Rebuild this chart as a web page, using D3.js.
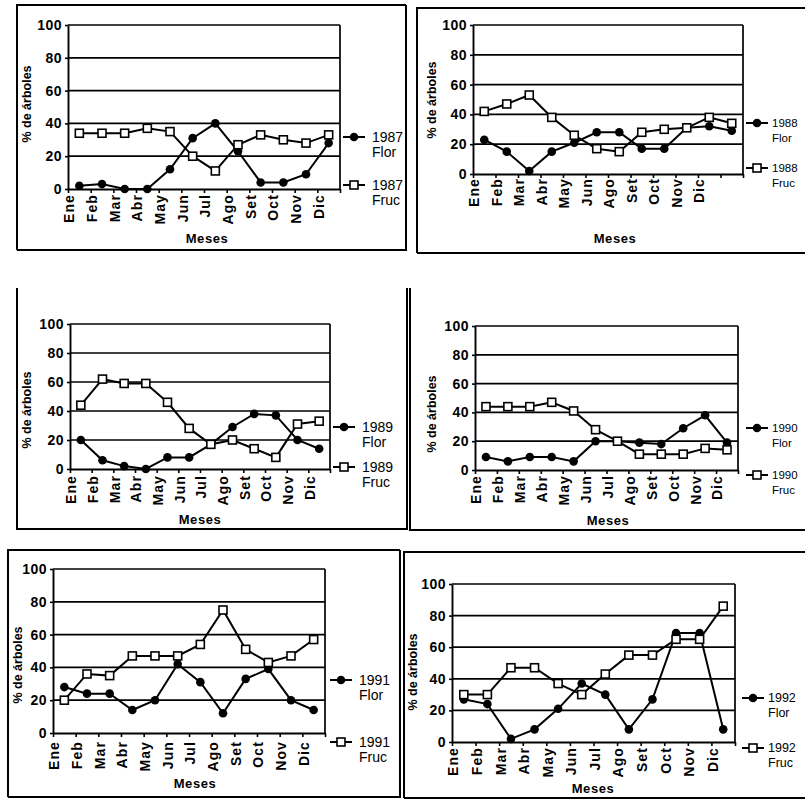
<!DOCTYPE html>
<html>
<head>
<meta charset="utf-8">
<script src="https://cdn.jsdelivr.net/npm/d3@7"></script>
<style>
  html, body { margin: 0; padding: 0; background: #fff; }
  svg { display: block; font-family: "Liberation Sans", Arial, sans-serif; }
</style>
</head>
<body>
<svg id="chart" width="805" height="801"></svg>
<script>
// Meses del año y etiquetas del eje
const months = ["Ene", "Feb", "Mar", "Abr", "May", "Jun", "Jul", "Ago", "Set", "Oct", "Nov", "Dic"];
const monthLabels1988 = ["Ene", "Feb", "Mar", "Abr", "May", "Jun", "Ago", "Set", "Oct", "Nov", "Dic"];
const yTicks = [0, 20, 40, 60, 80, 100];

// % de árboles en floración (Flor) y fructificación (Fruc) por año
const flor1987 = [2, 3, 0, 0, 12, 31, 40, 23, 4, 4, 9, 28];
const fruc1987 = [34, 34, 34, 37, 35, 20, 11, 27, 33, 30, 28, 33];
const flor1988 = [23, 15, 2, 15, 21, 28, 28, 17, 17, 31, 32, 29];
const fruc1988 = [42, 47, 53, 38, 26, 17, 15, 28, 30, 31, 38, 34];
const flor1989 = [20, 6, 2, 0, 8, 8, 17, 29, 38, 37, 20, 14];
const fruc1989 = [44, 62, 59, 59, 46, 28, 17, 20, 14, 8, 31, 33];
const flor1990 = [9, 6, 9, 9, 6, 20, 20, 19, 18, 29, 38, 19];
const fruc1990 = [44, 44, 44, 47, 41, 28, 20, 11, 11, 11, 15, 14];
const flor1991 = [28, 24, 24, 14, 20, 42, 31, 12, 33, 39, 20, 14];
const fruc1991 = [20, 36, 35, 47, 47, 47, 54, 75, 51, 43, 47, 57];
const flor1992 = [27, 24, 2, 8, 21, 37, 30, 8, 27, 69, 69, 8];
const fruc1992 = [30, 30, 47, 47, 37, 30, 43, 55, 55, 65, 65, 86];

const svg = d3.select("#chart");

// Placement of each small panel on the page
const panels = [
  { year: "1987", flor: flor1987, fruc: fruc1987, labels: months,
    frame: [17, 5, 406, 250], top: true,
    l: 68, r: 340, t: 25, b: 189, pad: 5,
    yTitle: [27, 104], meses: [207, 238], legend: [343, 137, 185], legendSize: 14 },
  { year: "1988", flor: flor1988, fruc: fruc1988, labels: monthLabels1988,
    frame: [417, 8, 812, 253], top: true,
    l: 473, r: 743, t: 25, b: 174, pad: 4,
    yTitle: [432, 100], meses: [615, 238], legend: [746, 123, 168], legendSize: 11.5 },
  { year: "1989", flor: flor1989, fruc: fruc1989, labels: months,
    frame: [17, 288, 407, 529], top: false,
    l: 70, r: 330, t: 324, b: 469, pad: 6,
    yTitle: [27, 410], meses: [200, 519], legend: [333, 427, 467], legendSize: 14 },
  { year: "1990", flor: flor1990, fruc: fruc1990, labels: months,
    frame: [410, 288, 812, 530], top: false,
    l: 475, r: 738, t: 326, b: 470, pad: 5,
    yTitle: [432, 414], meses: [608, 520], legend: [746, 428, 475], legendSize: 11.5 },
  { year: "1991", flor: flor1991, fruc: fruc1991, labels: months,
    frame: [8, 550, 400, 797], top: true,
    l: 53, r: 325, t: 569, b: 733, pad: 8,
    yTitle: [18, 665], meses: [195, 783], legend: [330, 680, 742], legendSize: 14 },
  { year: "1992", flor: flor1992, fruc: fruc1992, labels: months,
    frame: [404, 552, 812, 798], top: true,
    l: 452, r: 735, t: 584, b: 742, pad: 5,
    yTitle: [413, 672], meses: [593, 788], legend: [742, 698, 748], legendSize: 12.5 }
];

function drawSquare(sel, cx, cy) {
  sel.append("rect")
    .attr("x", cx - 4).attr("y", cy - 4)
    .attr("width", 8).attr("height", 8)
    .attr("fill", "#fff").attr("stroke", "#000").attr("stroke-width", 1.6);
}

function drawPanel(p) {
  const g = svg.append("g");
  const [fx0, fy0, fx1, fy1] = p.frame;

  // Outer frame
  const framePath = p.top
    ? `M${fx0},${fy1}V${fy0}H${fx1}M${fx0},${fy1}H${fx1}V${fy0}`
    : `M${fx0},${fy0}V${fy1}H${fx1}V${fy0}`;
  g.append("path").attr("d", framePath)
    .attr("fill", "none").attr("stroke", "#000").attr("stroke-width", 2);

  const x = d3.scaleLinear().domain([0, 12]).range([p.l, p.r]);
  const y = d3.scaleLinear().domain([0, 100]).range([p.b, p.t]);

  // Horizontal gridlines and right border of the plot area
  g.selectAll("line.grid").data(yTicks.filter(v => v > 0)).join("line")
    .attr("class", "grid")
    .attr("x1", p.l).attr("x2", p.r)
    .attr("y1", d => y(d)).attr("y2", d => y(d))
    .attr("stroke", "#000").attr("stroke-width", 1.7);
  g.append("line")
    .attr("x1", p.r).attr("x2", p.r).attr("y1", y(0)).attr("y2", y(100))
    .attr("stroke", "#000").attr("stroke-width", 1.7);

  // Y axis
  const ya = g.append("g").attr("transform", `translate(${p.l},0)`)
    .call(d3.axisLeft(y).tickValues(yTicks).tickSize(3).tickSizeOuter(0).tickPadding(3));
  ya.select(".domain").attr("stroke-width", 1.9);
  ya.selectAll(".tick line").attr("stroke-width", 1.6);
  ya.selectAll(".tick text")
    .attr("font-size", 14).attr("font-weight", "bold").attr("fill", "#000")
    .attr("letter-spacing", 0.5);

  // X axis with rotated month names at the tick marks
  const xa = g.append("g").attr("transform", `translate(0,${p.b})`)
    .call(d3.axisBottom(x).tickValues(d3.range(13)).tickSize(4).tickSizeOuter(0)
      .tickFormat(i => p.labels[i] || ""));
  xa.select(".domain").attr("stroke-width", 1.9);
  xa.selectAll(".tick line").attr("stroke-width", 1.6);
  xa.selectAll(".tick text")
    .attr("transform", "rotate(-90)")
    .attr("x", -p.pad).attr("y", 1).attr("dy", "0.35em")
    .attr("text-anchor", "end")
    .attr("font-size", 14).attr("font-weight", "bold").attr("fill", "#000")
    .attr("letter-spacing", 1.1);

  // Axis titles
  g.append("text")
    .attr("transform", `translate(${p.yTitle[0]},${p.yTitle[1]}) rotate(-90)`)
    .attr("text-anchor", "middle").attr("dy", "0.35em")
    .attr("font-size", 12.5).attr("font-weight", "bold")
    .text("% de árboles");
  g.append("text")
    .attr("x", p.meses[0]).attr("y", p.meses[1]).attr("dy", "0.35em")
    .attr("text-anchor", "middle")
    .attr("font-size", 13).attr("font-weight", "bold").attr("letter-spacing", 0.6)
    .text("Meses");

  // Series lines
  const line = d3.line().x((d, i) => x(i + 0.5)).y(d => y(d));
  g.append("path").datum(p.fruc).attr("d", line)
    .attr("fill", "none").attr("stroke", "#000").attr("stroke-width", 2);
  g.append("path").datum(p.flor).attr("d", line)
    .attr("fill", "none").attr("stroke", "#000").attr("stroke-width", 2);

  // Markers: filled circles for Flor, open squares for Fruc
  g.selectAll("circle.flor").data(p.flor).join("circle")
    .attr("class", "flor")
    .attr("cx", (d, i) => x(i + 0.5)).attr("cy", d => y(d)).attr("r", 4.3)
    .attr("fill", "#000");
  p.fruc.forEach((d, i) => drawSquare(g, x(i + 0.5), y(d)));

  // Legend
  const [lx, lyFlor, lyFruc] = p.legend;
  const tx = lx + (p.legendSize < 14 ? 26 : 29);
  const lg = g.append("g");
  [[lyFlor, "Flor"], [lyFruc, "Fruc"]].forEach(([ly, name]) => {
    lg.append("line").attr("x1", lx).attr("x2", lx + 22).attr("y1", ly).attr("y2", ly)
      .attr("stroke", "#000").attr("stroke-width", 2);
    if (name === "Flor") {
      lg.append("circle").attr("cx", lx + 11).attr("cy", ly).attr("r", 4.3).attr("fill", "#000");
    } else {
      drawSquare(lg, lx + 11, ly);
    }
    lg.append("text").attr("x", tx).attr("y", ly).attr("dy", "0.35em")
      .attr("font-size", p.legendSize).attr("font-weight", 500).text(p.year);
    lg.append("text").attr("x", tx).attr("y", ly + 15).attr("dy", "0.35em")
      .attr("font-size", p.legendSize).attr("font-weight", 500).text(name);
  });
}

panels.forEach(drawPanel);
</script>
</body>
</html>
